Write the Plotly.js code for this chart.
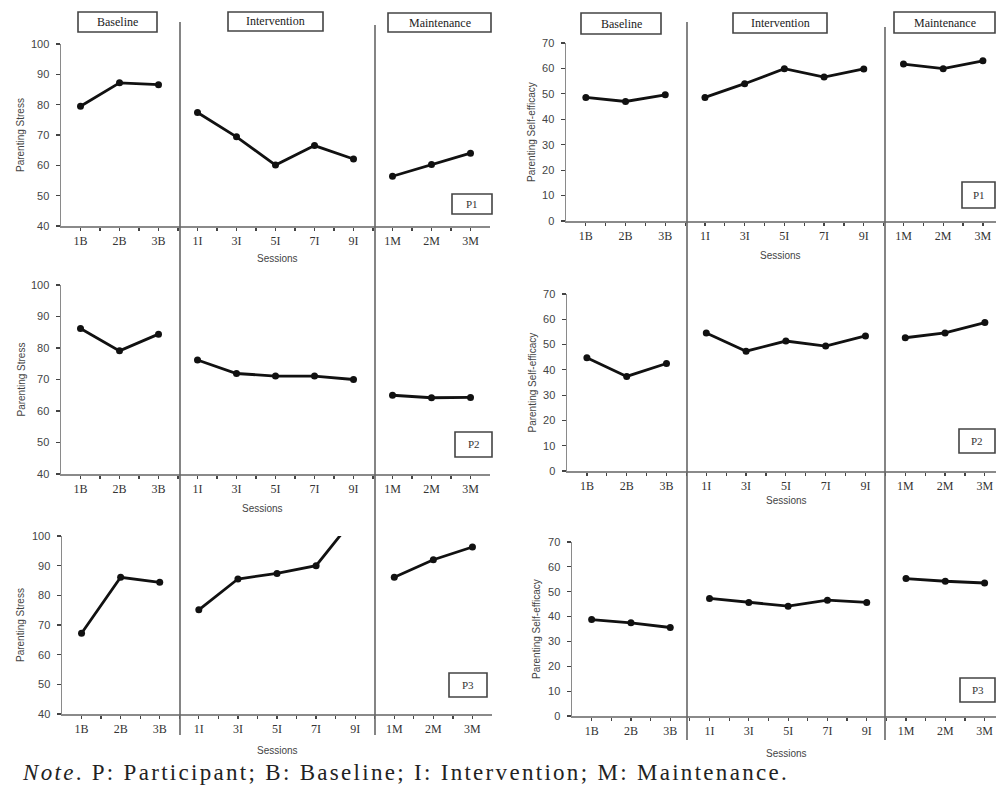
<!DOCTYPE html>
<html>
<head>
<meta charset="utf-8">
<script src="https://cdn.plot.ly/plotly-3.0.1.min.js"></script>
<style>html,body{margin:0;padding:0;background:#fff;}#chart{width:996px;height:796px;}</style>
</head>
<body>
<div id="chart"></div>
<script>
// ---------- data ----------
const sessions = ["1B","2B","3B","1I","3I","5I","7I","9I","1M","2M","3M"];
const phaseNames = ["Baseline","Intervention","Maintenance"];
const phaseLengths = [3,5,3];
const participants = ["P1","P2","P3"];
const stressTitle = "Parenting Stress";
const efficacyTitle = "Parenting Self-efficacy";
const xTitle = "Sessions";
const noteText = "<i>Note</i>. P: Participant; B: Baseline; I: Intervention; M: Maintenance.";

const stressP1 = [79.5, 87.2, 86.6, 77.4, 69.4, 60.1, 66.5, 62.1, 56.4, 60.3, 64.0];
const stressP2 = [86.2, 79.1, 84.4, 76.2, 71.9, 71.1, 71.1, 70.0, 65.0, 64.2, 64.3];
const stressP3 = [67.2, 86.1, 84.4, 75.1, 85.5, 87.4, 90.0, 106.5, 86.1, 92.0, 96.3];
const effP1 = [48.6, 47.0, 49.6, 48.6, 54.0, 59.9, 56.6, 59.8, 61.7, 59.9, 63.0];
const effP2 = [44.8, 37.4, 42.5, 54.6, 47.4, 51.4, 49.4, 53.4, 52.7, 54.6, 58.7];
const effP3 = [38.8, 37.5, 35.6, 47.3, 45.7, 44.2, 46.6, 45.7, 55.3, 54.2, 53.5];
const stressRange = [40, 100];
const efficacyRange = [0, 70];

// ---------- layout helpers ----------
const W = 996, H = 796;
const px = x => x / W;
const py = y => 1 - y / H;

// category array with an unlabeled slot between sessions
const cats = [];
sessions.forEach((s, i) => { cats.push(s); if (i < sessions.length - 1) cats.push(" ".repeat(i + 1)); });

// panel geometry (pixels)
const panels = [
  {vals: stressP1, yr: stressRange, ytitle: stressTitle, x0: 61, x1: 490, yt: 44, yb: 226, xend: 21, ytx: 20, sx: 277, sy: 258, box: [452, 194, 492, 214]},
  {vals: stressP2, yr: stressRange, ytitle: stressTitle, x0: 61, x1: 490, yt: 285, yb: 474, xend: 21, ytx: 21, sx: 262, sy: 508, box: [455, 432, 492, 457]},
  {vals: stressP3, yr: stressRange, ytitle: stressTitle, x0: 62, x1: 492, yt: 536, yb: 714, xend: 21, ytx: 20, sx: 277, sy: 750, box: [449, 673, 487, 697]},
  {vals: effP1, yr: efficacyRange, ytitle: efficacyTitle, x0: 566, x1: 996, yt: 43, yb: 221, xend: 20.66, ytx: 532, sx: 780, sy: 255, box: [962, 182, 995, 208]},
  {vals: effP2, yr: efficacyRange, ytitle: efficacyTitle, x0: 567, x1: 996, yt: 294, yb: 471, xend: 20.56, ytx: 532, sx: 786, sy: 500, box: [959, 429, 995, 453]},
  {vals: effP3, yr: efficacyRange, ytitle: efficacyTitle, x0: 572, x1: 996, yt: 542, yb: 716, xend: 20.58, ytx: 536, sx: 786, sy: 753, box: [960, 678, 995, 702]}
];

const data = [];
const layout = {
  width: W, height: H,
  margin: {l: 0, r: 0, t: 0, b: 0},
  paper_bgcolor: "#ffffff", plot_bgcolor: "rgba(0,0,0,0)",
  showlegend: false,
  shapes: [], annotations: []
};

const axisColor = "#8a8a8a";
panels.forEach((p, i) => {
  const n = i + 1;
  const xa = "xaxis" + (n === 1 ? "" : n), ya = "yaxis" + (n === 1 ? "" : n);
  const xr = "x" + (n === 1 ? "" : n), yr = "y" + (n === 1 ? "" : n);
  let start = 0;
  phaseLengths.forEach(len => {
    data.push({
      x: sessions.slice(start, start + len),
      y: p.vals.slice(start, start + len),
      xaxis: xr, yaxis: yr,
      type: "scatter", mode: "lines+markers",
      line: {color: "#111", width: 2.8},
      marker: {color: "#111", size: 7},
      hoverinfo: "skip"
    });
    start += len;
  });
  layout[xa] = {
    domain: [px(p.x0), px(p.x1)], anchor: yr,
    type: "category", categoryorder: "array", categoryarray: cats,
    range: [-1, p.xend],
    tickmode: "array", tickvals: cats, ticktext: cats, tickangle: 0,
    showline: true, linecolor: axisColor, linewidth: 1.5,
    ticks: "outside", ticklen: 3, tickwidth: 1.2, tickcolor: "#444",
    ticklabelstandoff: 0,
    tickfont: {family: "Liberation Serif, serif", size: 12, color: "#333"},
    showgrid: false, zeroline: false, fixedrange: true
  };
  layout[ya] = {
    domain: [py(p.yb), py(p.yt)], anchor: xr,
    range: p.yr, tick0: 0, dtick: 10,
    showline: true, linecolor: axisColor, linewidth: 1.5,
    ticks: "outside", ticklen: 4, tickwidth: 1.2, tickcolor: "#444",
    ticklabelstandoff: 4,
    tickfont: {family: "Liberation Sans, sans-serif", size: 11, color: "#444"},
    showgrid: false, zeroline: false, fixedrange: true
  };
  layout.annotations.push({
    text: p.ytitle, xref: "paper", yref: "paper", x: px(p.ytx), y: py((p.yt + p.yb) / 2),
    textangle: -90, showarrow: false, xanchor: "center", yanchor: "middle",
    font: {family: "Liberation Sans, sans-serif", size: 10, color: "#444"}
  });
  layout.annotations.push({
    text: xTitle, xref: "paper", yref: "paper", x: px(p.sx), y: py(p.sy),
    showarrow: false, xanchor: "center", yanchor: "middle",
    font: {family: "Liberation Sans, sans-serif", size: 10, color: "#444"}
  });
  const b = p.box;
  layout.shapes.push({type: "rect", xref: "paper", yref: "paper",
    x0: px(b[0]), x1: px(b[2]), y0: py(b[3]), y1: py(b[1]),
    line: {color: "#444", width: 1.6}, fillcolor: "rgba(0,0,0,0)"});
  layout.annotations.push({
    text: participants[i % 3], xref: "paper", yref: "paper",
    x: px((b[0] + b[2]) / 2), y: py((b[1] + b[3]) / 2),
    showarrow: false, xanchor: "center", yanchor: "middle",
    font: {family: "Liberation Serif, serif", size: 11, color: "#333"}
  });
});

const phaseBoxes = [
  [78, 12, 157, 32], [228, 12, 323, 31], [388, 13, 491, 32],
  [581, 13, 661, 34], [733, 13, 827, 33], [894, 12, 995, 33]
];
phaseBoxes.forEach((b, i) => {
  layout.shapes.push({type: "rect", xref: "paper", yref: "paper",
    x0: px(b[0]), x1: px(b[2]), y0: py(b[3]), y1: py(b[1]),
    line: {color: "#444", width: 1.6}, fillcolor: "rgba(0,0,0,0)"});
  layout.annotations.push({
    text: phaseNames[i % 3], xref: "paper", yref: "paper",
    x: px((b[0] + b[2]) / 2), y: py((b[1] + b[3]) / 2),
    showarrow: false, xanchor: "center", yanchor: "middle",
    font: {family: "Liberation Serif, serif", size: 12, color: "#222"}
  });
});

const dividers = [[180, 22, 735], [375, 25, 735], [687, 22, 740], [885, 27, 740]];
dividers.forEach(d => layout.shapes.push({type: "line", xref: "paper", yref: "paper",
  x0: px(d[0]), x1: px(d[0]), y0: py(d[2]), y1: py(d[1]),
  line: {color: "#666", width: 1.6}}));

layout.annotations.push({
  text: noteText, xref: "paper", yref: "paper", x: px(21), y: py(772),
  showarrow: false, xanchor: "left", yanchor: "middle",
  font: {family: "Liberation Serif, serif", size: 23, color: "#222"}
});

Plotly.newPlot("chart", data, layout, {displayModeBar: false, staticPlot: true}).then(gd => {
  gd.querySelectorAll("text.annotation-text").forEach(t => {
    if (t.textContent.indexOf("Participant") >= 0) {
      const bb = t.getBBox();
      t.setAttribute("text-anchor", "start");
      t.setAttribute("x", bb.x);
      t.querySelectorAll("tspan[x]").forEach(s => s.setAttribute("x", bb.x));
      t.style.letterSpacing = "2.3px";
    }
  });
});
</script>
</body>
</html>
